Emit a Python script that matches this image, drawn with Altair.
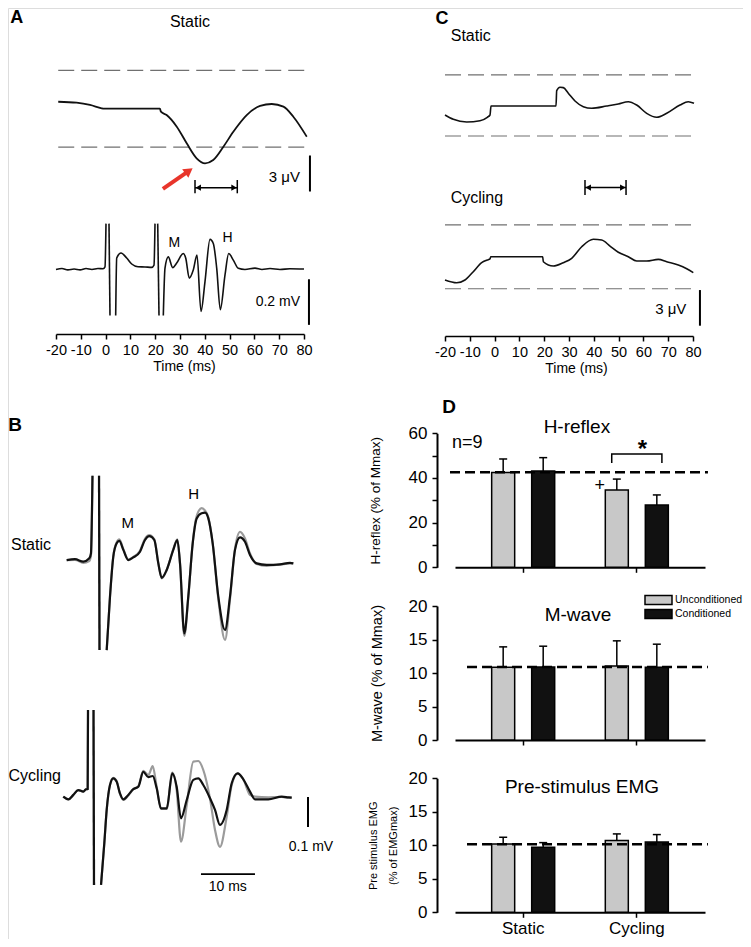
import altair as alt
import pandas as pd

FONT = "Liberation Sans"
INK = "#111111"
GREY_TRACE = "#9b9b9b"
DASH_GREY = "#707070"
RED = "#e8352b"
W, H = 735, 931

# ---------------- data ----------------
TIME_TICKS = [-20, -10, 0, 10, 20, 30, 40, 50, 60, 70, 80]

# Panel A, Static: averaged EEG (uV) and EMG (mV)
A_EEG_T = [-19.1, -11.7, -6.3, -1.6, -0.9, 21.9, 22.3, 24.6, 28.7, 32.7, 36.7, 40.1,
           43.4, 47.5, 51.5, 56.9, 62.3, 67.0, 71.7, 75.7, 81.1]
A_EEG_V = [0.58, 0.50, 0.31, 0.03, 0.0, 0.0, -0.25, -0.53, -1.50, -2.88, -4.13, -4.55,
           -4.28, -3.17, -1.92, -0.53, 0.23, 0.39, 0.17, -0.67, -2.33]
A_DASH = [3.2, -3.2]
A_EMG_T = [-20.0, -17.6, -15.2, -12.7, -10.3, -7.9, -5.5, -3.1, -1.0, -0.24, 0.16, 1.37,
           1.77, 4.07, 4.48, 6.21, 8.51, 10.52, 13.06, 15.89, 18.59, 19.52, 19.92, 21.01,
           21.53, 23.27, 23.95, 25.28, 27.06, 28.67, 31.33, 32.3, 33.75, 35.36, 36.85, 38.47,
           40.08, 42.1, 43.43, 44.8, 46.25, 48.15, 49.64, 51.49, 53.51, 56.2, 60.24, 63.06,
           66.3, 70.3, 74.35, 80.0]
A_EMG_V = [-0.002, 0.002, -0.004, 0.0, -0.004, 0.002, -0.002, 0.002, 0.001, 0.009, 0.199, 0.199,
           -0.204, -0.204, 0.048, 0.070, 0.048, 0.022, 0.010, 0.009, 0.007, 0.017, 0.199, 0.199,
           -0.204, -0.204, 0.004, 0.053, 0.006, 0.026, 0.068, 0.048, -0.040, -0.004, 0.061, -0.186,
           -0.055, 0.130, 0.112, 0.004, -0.178, -0.026, 0.068, 0.039, 0.003, -0.002, 0.004, -0.002,
           0.002, -0.002, 0.001, 0.0]
A_EMG_SEG = [0] * 11 + [1] * 2 + [2] * 10 + [3] * 2 + [4] * 27

# Panel C: averaged EEG (uV), Static and Cycling
C_S_T = [-20.0, -16.65, -11.25, -5.89, -2.94, -1.85, -1.45, 24.76, 25.04, 26.37, 27.7, 29.72,
         32.42, 35.77, 39.15, 45.2, 49.88, 53.91, 57.3, 61.33, 65.36, 69.4, 74.76, 78.1, 80.4]
C_S_V = [-0.75, -1.11, -1.33, -1.23, -0.94, -0.75, 0.0, 0.0, 1.28, 1.56, 1.53, 1.06,
         0.42, -0.06, -0.19, 0.0, 0.17, 0.36, 0.08, -0.61, -0.94, -0.61, 0.08, 0.36, 0.23]
C_S_DASH = [2.6, -2.5]
C_C_T = [-20.0, -15.28, -11.94, -8.59, -5.2, -2.94, -1.85, -1.57, 19.4, 19.64, 23.67, 27.7,
         31.09, 35.12, 39.8, 43.19, 46.53, 49.88, 53.91, 57.3, 61.33, 66.01, 69.4, 74.07, 77.46, 80.12]
C_C_V = [-1.94, -2.17, -1.94, -1.25, -0.5, -0.28, -0.19, 0.0, 0.0, -0.42, -0.78, -0.5,
         -0.13, 0.83, 1.45, 1.39, 0.89, 0.37, 0.0, -0.36, -0.36, -0.22, -0.42, -0.69, -1.0, -1.33]
C_C_DASH = [2.65, -2.67]

# Panel B: EMG (mV), unconditioned (grey) vs conditioned (black)
B_S_T = [15.57, 17.11, 18.65, 19.76, 20.07, 20.35, 21.56, 21.65, 22.98, 23.59, 24.2, 24.83,
         25.31, 26.06, 26.98, 27.91, 29.15, 30.07, 30.87, 31.8, 32.54, 33.17, 34.09, 35.31,
         36.06, 36.56, 37.35, 38.09, 38.91, 39.65, 40.57, 41.19, 41.8, 42.61, 43.65, 44.89,
         45.81, 46.74, 47.67, 48.59, 49.52, 50.76, 52.61, 55.07, 56.93, 57.54]
B_S_COND = [0.003, 0.006, -0.002, 0.009, 0.026, 0.284, 0.284, -0.297, -0.297, -0.119, 0.014, 0.059,
            0.067, 0.037, 0.003, 0.012, 0.031, 0.070, 0.083, 0.070, -0.008, -0.056, -0.030, 0.037,
            0.070, -0.008, -0.241, -0.119, 0.059, 0.142, 0.159, 0.161, 0.142, 0.059, -0.119, -0.230,
            -0.119, 0.037, 0.079, 0.064, 0.020, -0.008, -0.013, -0.011, -0.006, -0.008]
B_S_UNCOND = [0.003, 0.004, -0.006, 0.0, 0.02, 0.284, 0.284, -0.297, -0.297, -0.119, 0.016, 0.062,
              0.072, 0.040, 0.005, 0.014, 0.034, 0.074, 0.086, 0.072, -0.006, -0.058, -0.030, 0.039,
              0.072, -0.010, -0.250, -0.122, 0.062, 0.150, 0.176, 0.168, 0.146, 0.058, -0.126, -0.263,
              -0.128, 0.040, 0.097, 0.075, 0.025, -0.010, -0.016, -0.012, -0.008, -0.008]
B_S_SEG = [0] * 6 + [1] * 2 + [2] * 38
B_C_T = [14.94, 15.87, 16.8, 17.72, 18.65, 19.15, 19.46, 19.52, 20.54, 20.63, 21.93, 22.54,
         22.98, 23.59, 24.2, 24.83, 25.44, 26.06, 26.98, 27.91, 28.83, 29.76, 30.69, 31.5,
         32.24, 33.04, 34.09, 35.13, 35.94, 36.74, 37.8, 39.02, 39.94, 40.87, 42.11, 43.04,
         43.96, 45.2, 46.13, 47.24, 48.28, 49.52, 50.44, 52.91, 55.39, 56.61, 57.24]
B_C_COND = [0.001, -0.008, 0.007, 0.023, 0.018, 0.026, 0.027, 0.29, 0.29, -0.293, -0.293, -0.154,
            -0.043, 0.040, 0.062, 0.051, 0.012, -0.008, 0.007, 0.026, 0.034, 0.084, 0.066, 0.070,
            0.029, -0.038, -0.038, 0.079, 0.034, -0.071, -0.010, 0.057, 0.062, 0.040, -0.004, -0.043,
            -0.093, -0.043, 0.046, 0.079, 0.059, 0.018, -0.008, -0.008, 0.001, -0.001, -0.002]
B_C_UNCOND = [0.001, -0.008, 0.007, 0.023, 0.018, 0.026, 0.027, 0.29, 0.29, -0.293, -0.293, -0.154,
              -0.043, 0.040, 0.064, 0.053, 0.010, -0.010, 0.005, 0.026, 0.036, 0.087, 0.073, 0.103,
              0.033, -0.040, -0.040, 0.081, 0.023, -0.149, -0.027, 0.118, 0.120, 0.090, -0.005, -0.110,
              -0.166, -0.066, 0.040, 0.079, 0.059, 0.007, 0.001, -0.001, 0.0, -0.002, -0.002]
B_C_SEG = [0] * 8 + [1] * 2 + [2] * 37

# Panel D: group means and SD
D_GROUPS = ["Static", "Static", "Cycling", "Cycling"]
D_COND = ["Unconditioned", "Conditioned", "Unconditioned", "Conditioned"]
H_MEAN = [42.4, 43.1, 34.6, 27.9]
H_SD = [6.1, 6.0, 4.9, 4.5]
H_REF = 42.6
M_MEAN = [10.85, 10.9, 11.05, 10.85]
M_SD = [3.05, 3.1, 3.75, 3.45]
M_REF = 10.9
P_MEAN = [10.2, 9.7, 10.7, 10.5]
P_SD = [1.0, 0.7, 1.0, 1.1]
P_REF = 10.15
BRACKET_COND = ["Unconditioned", "Unconditioned", "Conditioned", "Conditioned"]
BRACKET_Y = [46.7, 50.7, 50.7, 46.7]
LEGEND_LABELS = ["Unconditioned", "Conditioned"]
BAR_COLORS = ["#c8c8c8", INK]

# ---------------- layout (scale domains -> pixel ranges) ----------------
A_X = ([-20, 80], [48, 296])
A_EEG_Y = ([-5, 5], [160.7, 40.7])
A_EMG_Y = ([-0.2, 0.2], [306.6, 215.4])
C_X = ([-20, 80], [437, 685])
C_S_Y = ([-5, 5], [158, 38])
C_C_Y = ([-5, 5], [308.7, 188.7])
B_X = ([0, 60], [-25.4, 298.6])
B_S_Y = ([-0.3, 0.3], [643, 463])
B_C_Y = ([-0.3, 0.3], [879, 699])
D_FRAME_X = ([0, 1], [429, 697])
D_H_Y = ([0, 60], [559.3, 425.3])
D_M_Y = ([0, 20], [732, 598])
D_P_Y = ([0, 20], [904.3, 770.3])
LEG_X = ([0, 1], [637, 664])
LEG_Y = ([0, 1], [592, 606])


def sc(d):
    return alt.Scale(domain=d[0], range=d[1], zero=False, nice=False)


def X(f, d, axis=None):
    return alt.X(f, type="quantitative", scale=sc(d), axis=axis)


def Y(f, d, axis=None):
    return alt.Y(f, type="quantitative", scale=sc(d), axis=axis)


def trace(t, v, xs, ys, seg=None, color=INK, width=1.5, axis=None):
    df = pd.DataFrame({"t": t, "v": v, "seg": seg if seg is not None else [0] * len(t)})
    return alt.Chart(df).mark_line(color=color, strokeWidth=width, interpolate="monotone").encode(
        x=X("t", xs, axis), y=Y("v", ys), detail="seg:N")


def hlines(vals, x0, x1, xs, ys, **mk):
    df = pd.DataFrame({"y": vals, "x0": [x0] * len(vals), "x1": [x1] * len(vals)})
    return alt.Chart(df).mark_rule(**mk).encode(x=X("x0", xs), x2="x1", y=Y("y", ys))


def vline(x, y0, y1, xs, ys, **mk):
    df = pd.DataFrame({"x": [x], "y0": [y0], "y1": [y1]})
    return alt.Chart(df).mark_rule(**mk).encode(x=X("x", xs), y=Y("y0", ys), y2="y1")


def label(txt, x, y, xs, ys, **mk):
    df = pd.DataFrame({"x": [x], "y": [y], "txt": [txt]})
    mk.setdefault("font", FONT)
    mk.setdefault("color", "black")
    return alt.Chart(df).mark_text(**mk).encode(x=X("x", xs), y=Y("y", ys), text="txt:N")


def double_arrow(t0, t1, yv, yb0, yb1, xs, ys):
    out = [hlines([yv], t0, t1, xs, ys, color="black", strokeWidth=1.5),
           vline(t0, yb0, yb1, xs, ys, color="black", strokeWidth=1.5),
           vline(t1, yb0, yb1, xs, ys, color="black", strokeWidth=1.5)]
    heads = pd.DataFrame({"x": [t0 + 1.3, t1 - 1.3], "y": [yv, yv],
                          "s": ["triangle-left", "triangle-right"]})
    out.append(alt.Chart(heads).mark_point(filled=True, size=40, color="black", opacity=1).encode(
        x=X("x", xs), y=Y("y", ys),
        shape=alt.Shape("s:N", scale=None, legend=None)))
    return out


TIME_AXIS = dict(values=TIME_TICKS, title="Time (ms)", labelFontSize=14.5, titleFontSize=14,
                 labelExpr="'' + datum.value",
                 tickSize=5, labelPadding=4, titlePadding=3, domainColor="black",
                 tickColor="black", domainWidth=1.5, tickWidth=1.5, labelColor="black",
                 titleColor="black", grid=False, labelFlush=False, labelOverlap=False,
                 titleFontWeight="normal", labelFont=FONT, titleFont=FONT)

layers = []

# ================= Panel A =================
layers.append(hlines(A_DASH, -19.1, 81.1, A_X, A_EEG_Y, color=DASH_GREY,
                     strokeDash=[16, 7], strokeWidth=1.2))
layers.append(trace(A_EEG_T, A_EEG_V, A_X, A_EEG_Y, width=1.8))
layers.append(vline(82.4, -3.9, -6.9, A_X, A_EEG_Y, color="black", strokeWidth=2))
layers.append(label("3 μV", 78.4, -5.7, A_X, A_EEG_Y, align="right", baseline="middle", fontSize=15))
layers += double_arrow(36.05, 53.1, -6.58, -5.94, -7.05, A_X, A_EEG_Y)
arrow_df = pd.DataFrame({"x": [23.1], "y": [-6.69], "x2": [33.6], "y2": [-5.18]})
layers.append(alt.Chart(arrow_df).mark_rule(color=RED, strokeWidth=4).encode(
    x=X("x", A_X), y=Y("y", A_EEG_Y), x2="x2", y2="y2"))
layers.append(alt.Chart(arrow_df).mark_point(shape="triangle-up", angle=54, size=110, filled=True,
                                             color=RED, opacity=1).encode(
    x=X("x2", A_X), y=Y("y2", A_EEG_Y)))
layers.append(label("A", -35.8, 7.6, A_X, A_EEG_Y, fontSize=18, fontWeight="bold",
                    align="center", baseline="middle"))
layers.append(label("Static", 34.0, 7.25, A_X, A_EEG_Y, fontSize=16, align="center",
                    baseline="middle"))

layers.append(trace(A_EMG_T, A_EMG_V, A_X, A_EMG_Y, seg=A_EMG_SEG, width=1.6,
                    axis=alt.Axis(orient="bottom", offset=326 - H, titleX=176, **TIME_AXIS)))
layers.append(vline(82.0, -0.045, -0.245, A_X, A_EMG_Y, color="black", strokeWidth=2))
layers.append(label("0.2 mV", 78.4, -0.143, A_X, A_EMG_Y, align="right", baseline="middle",
                    fontSize=14))
layers.append(label("M", 27.7, 0.113, A_X, A_EMG_Y, fontSize=14, align="center", baseline="middle"))
layers.append(label("H", 49.2, 0.135, A_X, A_EMG_Y, fontSize=14, align="center", baseline="middle"))

# ================= Panel C =================
layers.append(hlines(C_S_DASH, -20, 80.4, C_X, C_S_Y, color=DASH_GREY, strokeDash=[16, 7],
                     strokeWidth=1.2))
layers.append(trace(C_S_T, C_S_V, C_X, C_S_Y, width=1.6))
layers.append(label("C", -21.2, 7.25, C_X, C_S_Y, fontSize=18, fontWeight="bold", align="center",
                    baseline="middle"))
layers.append(label("Static", -17.7, 5.86, C_X, C_S_Y, fontSize=16, align="left", baseline="middle"))
layers += double_arrow(36.45, 53.0, -6.8, -6.17, -7.42, C_X, C_S_Y)

layers.append(hlines(C_C_DASH, -20, 80.4, C_X, C_C_Y, color=DASH_GREY, strokeDash=[16, 7],
                     strokeWidth=1.2))
layers.append(trace(C_C_T, C_C_V, C_X, C_C_Y, width=1.6,
                    axis=alt.Axis(orient="bottom", offset=328 - H, titleX=568, **TIME_AXIS)))
layers.append(label("Cycling", -17.7, 4.87, C_X, C_C_Y, fontSize=16, align="left", baseline="middle"))
layers.append(vline(82.8, -2.78, -5.75, C_X, C_C_Y, color="black", strokeWidth=2))
layers.append(label("3 μV", 77.3, -4.36, C_X, C_C_Y, align="right", baseline="middle", fontSize=15))

# ================= Panel B =================
layers.append(trace(B_S_T, B_S_UNCOND, B_X, B_S_Y, seg=B_S_SEG, color=GREY_TRACE, width=2.2))
layers.append(trace(B_S_T, B_S_COND, B_X, B_S_Y, seg=B_S_SEG, color=INK, width=2.2))
layers.append(label("B", 6.0, 0.453, B_X, B_S_Y, fontSize=19, fontWeight="bold", align="center",
                    baseline="middle"))
layers.append(label("Static", 5.26, 0.053, B_X, B_S_Y, fontSize=16, align="left", baseline="middle"))
layers.append(label("M", 26.9, 0.127, B_X, B_S_Y, fontSize=15, align="center", baseline="middle"))
layers.append(label("H", 39.1, 0.223, B_X, B_S_Y, fontSize=15, align="center", baseline="middle"))

layers.append(trace(B_C_T, B_C_UNCOND, B_X, B_C_Y, seg=B_C_SEG, color=GREY_TRACE, width=2.2))
layers.append(trace(B_C_T, B_C_COND, B_X, B_C_Y, seg=B_C_SEG, color=INK, width=2.2))
layers.append(label("Cycling", 4.8, 0.07, B_X, B_C_Y, fontSize=16, align="left", baseline="middle"))
layers.append(vline(60.26, 0.0, -0.1, B_X, B_C_Y, color="black", strokeWidth=2))
layers.append(label("0.1 mV", 56.7, -0.167, B_X, B_C_Y, fontSize=14, align="left", baseline="middle"))
layers.append(hlines([-0.257], 40.44, 50.44, B_X, B_C_Y, color="black", strokeWidth=1.8))
layers.append(label("10 ms", 45.4, -0.30, B_X, B_C_Y, fontSize=14, align="center", baseline="middle"))

# ================= Panel D =================
BAND = alt.Scale(domain=["Static", "Cycling"], range=[447, 697], paddingInner=0, paddingOuter=0.1)
OFFS = alt.Scale(domain=["Unconditioned", "Conditioned"], paddingInner=0.425, paddingOuter=0.6325)
COLOR_SCALE = alt.Scale(domain=LEGEND_LABELS, range=BAR_COLORS)

Y_AXIS_STYLE = dict(orient="left", offset=-429, labelFontSize=17, tickSize=5, labelPadding=5,
                    domainColor="black", tickColor="black", domainWidth=2, tickWidth=1.5,
                    labelColor="black", titleColor="black", grid=False, labelFont=FONT,
                    titleFont=FONT, titleFontWeight="normal", labelFlush=False)


def d_x(axis=None):
    return alt.X("grp:N", scale=BAND, axis=axis)


def d_off():
    return alt.XOffset("cond:N", scale=OFFS)


def bar_panel(mean, sd, ref, ys, yaxis, xaxis, ref_x0):
    df = pd.DataFrame({"grp": D_GROUPS, "cond": D_COND, "m": mean,
                       "top": [a + b for a, b in zip(mean, sd)]})
    out = []
    out.append(alt.Chart(df).mark_rule(color="black", strokeWidth=1.5).encode(
        x=d_x(), xOffset=d_off(), y=Y("m", ys), y2="top"))
    out.append(alt.Chart(df).mark_tick(color="black", orient="horizontal", size=8,
                                       thickness=1.5, opacity=1).encode(
        x=d_x(), xOffset=d_off(), y=Y("top", ys)))
    out.append(alt.Chart(df).mark_bar(stroke="black", strokeWidth=1.5, opacity=1).encode(
        x=d_x(xaxis), xOffset=d_off(), y=Y("m", ys, yaxis),
        color=alt.Color("cond:N", scale=COLOR_SCALE, legend=None)))
    out.append(hlines([ref], ref_x0, 1.011, D_FRAME_X, ys, color="black", strokeDash=[10, 5],
                      strokeWidth=2.5))
    return out


X_AXIS_STYLE = dict(orient="bottom", tickSize=5, domainColor="black", tickColor="black",
                    domainWidth=2, tickWidth=1.5, grid=False, title=None)

# H-reflex
layers += bar_panel(
    H_MEAN, H_SD, H_REF, D_H_Y,
    alt.Axis(values=[0, 10, 20, 30, 40, 50, 60],
             labelExpr="datum.value % 20 === 0 ? datum.label : ''",
             title="H-reflex  (% of Mmax)", titleFontSize=13.5, titlePadding=26, **Y_AXIS_STYLE),
    alt.Axis(offset=559.3 - H, labels=False, **X_AXIS_STYLE), 0.0485)
layers.append(label("D", 0.045, 71.8, D_FRAME_X, D_H_Y, fontSize=19, fontWeight="bold",
                    align="center", baseline="middle"))
layers.append(label("H-reflex", 0.522, 62.8, D_FRAME_X, D_H_Y, fontSize=19, align="center",
                    baseline="middle"))
layers.append(label("n=9", 0.056, 55.7, D_FRAME_X, D_H_Y, fontSize=18, align="left",
                    baseline="middle"))
br = pd.DataFrame({"grp": ["Cycling"] * 4, "cond": BRACKET_COND, "y": BRACKET_Y, "o": [0, 1, 2, 3]})
layers.append(alt.Chart(br).mark_line(color="black", strokeWidth=1.5).encode(
    x=d_x(), xOffset=d_off(), y=Y("y", D_H_Y), order="o:Q"))
star = pd.DataFrame({"grp": ["Cycling"], "y": [49.4], "txt": ["*"]})
layers.append(alt.Chart(star).mark_text(fontSize=24, fontWeight="bold", font=FONT, color="black",
                                        baseline="alphabetic").encode(
    x=d_x(), y=Y("y", D_H_Y), text="txt:N"))
plus = pd.DataFrame({"grp": ["Cycling"], "cond": ["Unconditioned"], "y": [34.2], "txt": ["+"]})
layers.append(alt.Chart(plus).mark_text(fontSize=18, font=FONT, color="black", dx=-12,
                                        baseline="alphabetic").encode(
    x=d_x(), xOffset=d_off(), y=Y("y", D_H_Y), text="txt:N"))

# M-wave
layers += bar_panel(
    M_MEAN, M_SD, M_REF, D_M_Y,
    alt.Axis(values=[0, 5, 10, 15, 20], title="M-wave (% of Mmax)", titleFontSize=14.5,
             titlePadding=24, **Y_AXIS_STYLE),
    alt.Axis(offset=732 - H, labels=False, **X_AXIS_STYLE), 0.112)
layers.append(label("M-wave", 0.526, 18.7, D_FRAME_X, D_M_Y, fontSize=19, align="center",
                    baseline="middle"))

# legend (swatches + labels)
leg = pd.DataFrame({"cond": LEGEND_LABELS, "row": [0, 1], "x0": [0, 0], "x1": [1, 1],
                    "lx": [1.11, 1.11]})
leg["y0"] = leg["row"] - 0.32
leg["y1"] = leg["row"] + 0.32
layers.append(alt.Chart(leg).mark_rect(stroke="black", strokeWidth=1.5, opacity=1).encode(
    x=X("x0", LEG_X), x2="x1", y=Y("y0", LEG_Y), y2="y1",
    color=alt.Color("cond:N", scale=COLOR_SCALE, legend=None)))
layers.append(alt.Chart(leg).mark_text(fontSize=10.5, font=FONT, color="black", align="left",
                                       baseline="middle").encode(
    x=X("lx", LEG_X), y=Y("row", LEG_Y), text="cond:N"))

# Pre-stimulus EMG
layers += bar_panel(
    P_MEAN, P_SD, P_REF, D_P_Y,
    alt.Axis(values=[0, 5, 10, 15, 20], title=["Pre stimulus EMG", "(% of EMGmax)"],
             titleFontSize=11, titleLineHeight=20, titlePadding=10, **Y_AXIS_STYLE),
    alt.Axis(offset=904.3 - H, labels=True, labelFontSize=17, labelPadding=3,
             labelColor="black", labelFont=FONT, labelAngle=0, **X_AXIS_STYLE), 0.112)
layers.append(label("Pre-stimulus EMG", 0.541, 18.7, D_FRAME_X, D_P_Y, fontSize=19,
                    align="center", baseline="middle"))

chart = alt.layer(*layers).resolve_scale(
    x="independent", y="independent", xOffset="independent", color="independent"
).properties(
    width=W, height=H, autosize=alt.AutoSizeParams(type="none"), padding=0
).configure_view(stroke=None).configure(font=FONT)

chart.save("out.html", embed_options={"renderer": "svg", "actions": False})
